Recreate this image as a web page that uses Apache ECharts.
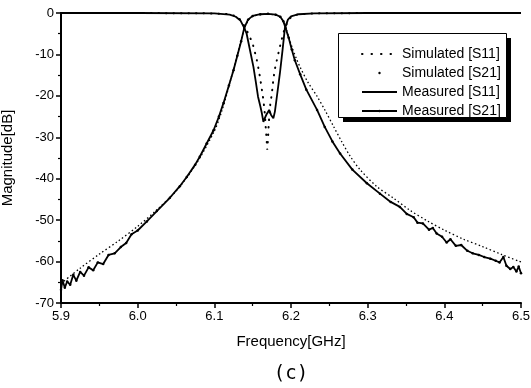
<!DOCTYPE html>
<html>
<head>
<meta charset="utf-8">
<script src="https://cdn.jsdelivr.net/npm/echarts@6/dist/echarts.min.js"></script>
<style>
html,body{margin:0;padding:0;background:#fff;}
#chart{width:531px;height:388px;}
</style>
</head>
<body>
<div id="chart"></div>
<script>
// ---- data ----
var xTicks = [5.9, 6.0, 6.1, 6.2, 6.3, 6.4, 6.5];
var yTicks = [0, -10, -20, -30, -40, -50, -60, -70];

var simS11Freq = [5.900, 6.000, 6.100, 6.120, 6.130, 6.135, 6.140, 6.145, 6.150, 6.155, 6.158, 6.160, 6.162, 6.164, 6.166, 6.167, 6.168, 6.169, 6.170, 6.171, 6.173, 6.175, 6.177, 6.179, 6.182, 6.186, 6.190, 6.193, 6.197, 6.202, 6.210, 6.230, 6.300, 6.500];
var simS11Db   = [0, 0, -0.1, -0.3, -0.9, -1.8, -3.4, -5.2, -7.4, -11.0, -13.8, -16.0, -18.5, -21.0, -24.5, -27.5, -30.0, -33.0, -30.5, -26.5, -22.0, -19.5, -16.0, -13.5, -11.0, -7.8, -4.8, -3.2, -1.6, -0.7, -0.3, -0.1, 0, 0];

var simS21Freq = [5.900, 5.925, 5.950, 5.975, 6.000, 6.025, 6.050, 6.075, 6.100, 6.110, 6.120, 6.130, 6.135, 6.140, 6.145, 6.150, 6.160, 6.170, 6.180, 6.185, 6.190, 6.193, 6.197, 6.202, 6.207, 6.212, 6.222, 6.234, 6.245, 6.255, 6.266, 6.277, 6.290, 6.312, 6.333, 6.355, 6.378, 6.400, 6.425, 6.450, 6.475, 6.500];
var simS21Db   = [-65.3, -61.6, -58.2, -55.0, -51.5, -47.5, -43.0, -36.8, -28.5, -23.5, -17.0, -10.0, -6.5, -3.4, -1.6, -0.8, -0.4, -0.3, -0.5, -0.9, -2.0, -3.4, -5.8, -8.6, -11.0, -13.1, -16.7, -20.1, -23.7, -27.2, -31.0, -34.5, -37.8, -41.9, -44.6, -47.6, -50.2, -52.4, -54.6, -56.4, -58.3, -60.1];

var measS11Freq = [5.900, 6.000, 6.100, 6.120, 6.128, 6.134, 6.139, 6.142, 6.146, 6.151, 6.154, 6.157, 6.160, 6.162, 6.164, 6.166, 6.168, 6.1715, 6.174, 6.177, 6.179, 6.181, 6.1855, 6.189, 6.192, 6.196, 6.200, 6.210, 6.230, 6.300, 6.500];
var measS11Db   = [0, 0, -0.1, -0.4, -0.9, -1.8, -3.6, -4.9, -8.5, -13.0, -16.5, -20.2, -22.5, -24.2, -26.3, -25.3, -24.5, -23.4, -24.6, -25.4, -23.8, -21.0, -14.6, -8.9, -3.7, -1.6, -0.8, -0.3, -0.1, 0, 0];

var measS21Freq = [5.900, 5.902, 5.905, 5.908, 5.912, 5.916, 5.920, 5.925, 5.930, 5.936, 5.942, 5.948, 5.955, 5.962, 5.970, 5.978, 5.985, 5.992, 6.000, 6.012, 6.025, 6.042, 6.055, 6.064, 6.075, 6.081, 6.090, 6.099, 6.106, 6.112, 6.119, 6.125, 6.130, 6.135, 6.139, 6.144, 6.150, 6.160, 6.170, 6.180, 6.186, 6.190, 6.193, 6.197, 6.201, 6.205, 6.212, 6.220, 6.234, 6.244, 6.254, 6.264, 6.280, 6.299, 6.316, 6.330, 6.342, 6.351, 6.360, 6.365, 6.372, 6.380, 6.385, 6.390, 6.397, 6.403, 6.408, 6.415, 6.422, 6.430, 6.437, 6.445, 6.452, 6.460, 6.467, 6.472, 6.477, 6.481, 6.486, 6.490, 6.494, 6.497, 6.500];
var measS21Db   = [-66.8, -64.5, -66.3, -64.8, -65.6, -63.2, -64.6, -62.5, -63.4, -61.4, -62.1, -60.2, -60.6, -58.4, -58.0, -56.5, -55.5, -53.4, -52.5, -50.3, -47.8, -44.6, -41.8, -39.6, -36.6, -34.7, -31.5, -28.3, -25.0, -21.7, -17.5, -13.8, -10.3, -6.8, -3.6, -1.6, -0.7, -0.3, -0.2, -0.4, -0.9, -2.0, -3.7, -6.0, -8.8, -11.4, -14.8, -18.5, -23.4, -27.5, -31.0, -33.9, -37.8, -41.1, -43.6, -45.6, -46.8, -48.5, -49.3, -50.6, -50.8, -52.3, -51.9, -53.2, -54.0, -55.4, -54.6, -56.2, -56.0, -57.4, -58.0, -58.4, -58.9, -59.3, -59.8, -60.2, -58.9, -61.0, -61.8, -61.3, -62.4, -61.2, -62.8];

var seriesNames = ['Simulated [S11]', 'Simulated [S21]', 'Measured [S11]', 'Measured [S21]'];
var panelLabel = '(c)';

function pairs(f, d) { return f.map(function (v, i) { return [v, d[i]]; }); }

var chart = echarts.init(document.getElementById('chart'), null, {renderer: 'canvas'});
var FONT = 'Liberation Sans, Arial, sans-serif';

chart.setOption({
  backgroundColor: '#fff',
  animation: false,
  grid: {left: 61, right: 10, top: 13, bottom: 85, containLabel: false, outerBoundsMode: 'none'},
  xAxis: {
    type: 'value', min: xTicks[0], max: xTicks[xTicks.length - 1], interval: 0.1,
    name: 'Frequency[GHz]', nameLocation: 'middle', nameGap: 31,
    nameTextStyle: {fontFamily: FONT, fontSize: 15, color: '#000'},
    axisLine: {show: true, onZero: false, lineStyle: {color: '#000', width: 2}},
    axisTick: {show: true, inside: false, length: 5, lineStyle: {color: '#000', width: 1.5}},
    minorTick: {show: true, splitNumber: 2, length: 3, lineStyle: {color: '#000', width: 1.2}},
    axisLabel: {fontFamily: FONT, fontSize: 13, color: '#000', margin: 7, formatter: function (v) { return v.toFixed(1); }},
    splitLine: {show: false}
  },
  yAxis: {
    type: 'value', min: yTicks[yTicks.length - 1], max: yTicks[0], interval: 10,
    name: 'Magnitude[dB]', nameLocation: 'middle', nameGap: 46,
    nameTextStyle: {fontFamily: FONT, fontSize: 15, color: '#000'},
    axisLine: {show: true, onZero: false, lineStyle: {color: '#000', width: 2}},
    axisTick: {show: true, inside: false, length: 5, lineStyle: {color: '#000', width: 1.5}},
    minorTick: {show: true, splitNumber: 2, length: 3, lineStyle: {color: '#000', width: 1.2}},
    axisLabel: {fontFamily: FONT, fontSize: 13, color: '#000', margin: 7},
    splitLine: {show: false}
  },
  legend: {
    orient: 'vertical', left: 338, top: 33, z: 12,
    padding: [14, 8, 2, 23],
    itemWidth: 35, itemHeight: 3, itemGap: 5,
    backgroundColor: 'transparent', borderWidth: 0,
    selectedMode: false,
    textStyle: {fontFamily: FONT, fontSize: 14, color: '#000'},
    data: [
      {name: seriesNames[0], itemStyle: {opacity: 0}, lineStyle: {type: [0.5, 9], width: 2, cap: 'round'}},
      {name: seriesNames[1], itemStyle: {opacity: 1}, lineStyle: {opacity: 0}},
      {name: seriesNames[2], itemStyle: {opacity: 0}},
      {name: seriesNames[3], itemStyle: {opacity: 1}}
    ]
  },
  graphic: [
    {type: 'rect', z: 10, shape: {x: 343, y: 38, width: 168, height: 84}, style: {fill: '#000'}},
    {type: 'rect', z: 11, shape: {x: 338.5, y: 33.5, width: 168, height: 84}, style: {fill: '#fff', stroke: '#000', lineWidth: 1}},
    {type: 'text', x: 291, y: 374, z: 10,
     style: {text: panelLabel, fontFamily: 'DejaVu Sans Mono', fontSize: 19, fill: '#000', align: 'center', verticalAlign: 'middle'}}
  ],
  series: [
    {
      name: seriesNames[0], type: 'line', data: pairs(simS11Freq, simS11Db),
      symbol: 'none', color: '#000',
      lineStyle: {color: '#000', width: 2, type: [0.5, 7], cap: 'round'}, z: 3
    },
    {
      name: seriesNames[1], type: 'line', data: pairs(simS21Freq, simS21Db),
      symbol: 'none', color: '#000', smooth: 0.3,
      lineStyle: {color: '#000', width: 1.3, type: [1.5, 2.5]}, z: 2
    },
    {
      name: seriesNames[2], type: 'line', data: pairs(measS11Freq, measS11Db),
      symbol: 'none', color: '#000',
      lineStyle: {color: '#000', width: 1.8}, z: 4
    },
    {
      name: seriesNames[3], type: 'line', data: pairs(measS21Freq, measS21Db),
      symbol: 'circle', symbolSize: 2.5, showSymbol: true, color: '#000',
      itemStyle: {color: '#000'},
      lineStyle: {color: '#000', width: 1.8}, z: 4
    }
  ]
});
</script>
</body>
</html>
